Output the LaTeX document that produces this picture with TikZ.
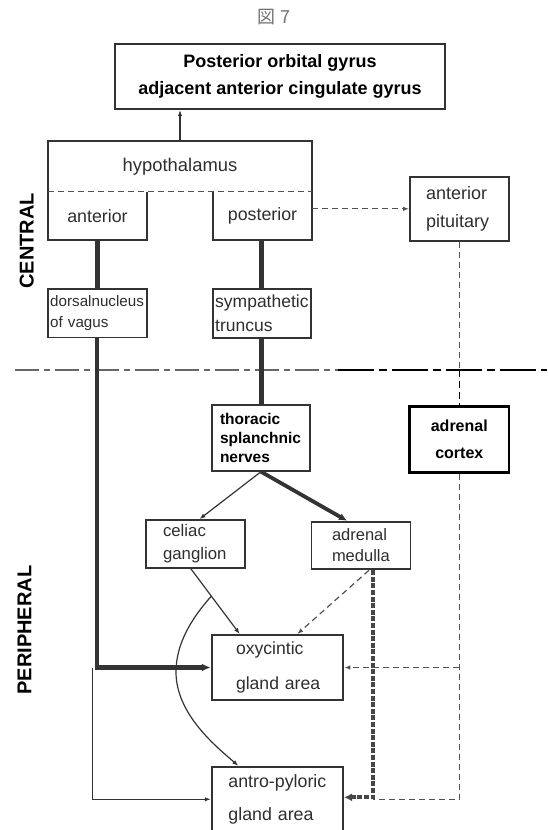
\documentclass[tikz,border=0pt]{standalone}
\usepackage{fontspec}
\setmainfont{Liberation Sans}
\newfontfamily\cjkfont{Noto Sans CJK JP}
\usetikzlibrary{arrows.meta,calc}
\definecolor{ln}{HTML}{333333}
\definecolor{tx}{HTML}{2E2E2E}
\begin{document}
\begin{tikzpicture}[x=1pt,y=-1pt,
  box/.style={draw=ln, line width=1.9pt, inner ysep=0pt, text=tx},
  tipa/.style={-{Latex[length=6pt,width=4.5pt]}},
  thinarrow/.style={draw=ln, line width=1.2pt, tipa},
  heavy/.style={draw=ln, line width=4.5pt},
  dsh/.style={draw=ln!85, line width=1.2pt, dash pattern=on 6pt off 4pt},
  dshdark/.style={draw=black, line width=1.8pt, dash pattern=on 7pt off 4pt},
  heavydash/.style={draw=ln!90, line width=4pt, dash pattern=on 5pt off 1.6pt},
  side/.style={font=\bfseries\fontsize{20}{20}\selectfont, rotate=90, inner sep=0pt}
]
\useasboundingbox (0,0) rectangle (547,830);
\clip (0,0) rectangle (547,830);

% title
\node[font=\cjkfont\fontsize{18}{18}\selectfont, text=black!55] (title) at (274,17) {図 7};

% side labels
\node[side] (central) at (26.7,240.7) {CENTRAL};
\node[side] (peripheral) at (24.5,630) {PERIPHERAL};

% boxes
\node[box, line width=2.2pt, minimum width=330pt, minimum height=65pt, align=center,
  font=\bfseries\fontsize{18}{27.7}\selectfont, text=black] (top) at (280,76.5)
  {Posterior orbital gyrus\\adjacent anterior cingulate gyrus};

\node[minimum width=264pt, minimum height=50pt, inner sep=0pt, text=tx,
  font=\fontsize{18.4}{20}\selectfont] (hypo) at (180,166.5) {hypothalamus};
\node[minimum width=99pt, minimum height=48pt, inner sep=0pt, text=tx,
  font=\fontsize{17.8}{20}\selectfont] (ant) at (97.5,216) {anterior};
\node[minimum width=99pt, minimum height=48pt, inner sep=0pt, text=tx,
  font=\fontsize{17.8}{20}\selectfont] (post) at (262.5,216) {posterior};

\node[box, minimum height=64pt, text width=67pt, inner xsep=16pt, align=left,
  font=\fontsize{18}{27.4}\selectfont] (pit) at (459.5,208.8) {anterior\\pituitary};

\node[box, minimum height=48.5pt, text width=94pt, inner xsep=2.5pt, align=left,
  font=\fontsize{15.2}{21.3}\selectfont] (dors) at (97.2,313.2) {dorsalnucleus\\of vagus};
\node[box, minimum height=49pt, text width=93pt, inner xsep=2.5pt, align=left,
  font=\fontsize{17.5}{24}\selectfont] (symp) at (261.7,313.6) {sympathetic\\truncus};

\node[box, minimum height=65.7pt, text width=82pt, inner xsep=8pt, align=left, text=black,
  font=\bfseries\fontsize{15.5}{18.8}\selectfont] (thor) at (261,437.9) {thoracic\\splanchnic\\nerves};
\node[box, draw=black, line width=2.8pt, minimum width=99.5pt, minimum height=66pt, align=center, text=black,
  font=\bfseries\fontsize{16}{26.3}\selectfont] (cortex) at (459.3,439.2) {adrenal\\cortex};

\node[box, minimum height=47.7pt, text width=65pt, inner xsep=17pt, align=left,
  font=\fontsize{16.8}{23.3}\selectfont] (cel) at (195.5,543.9) {celiac\\ganglion};
\node[box, minimum height=47.6pt, text width=58pt, inner xsep=20.5pt, align=left,
  font=\fontsize{16.5}{21}\selectfont] (med) at (361,545.5) {adrenal\\medulla};

\node[box, minimum height=65pt, text width=90pt, inner xsep=20.8pt, align=left,
  font=\fontsize{17.6}{34.3}\selectfont] (oxy) at (277.5,667.5) {\hspace*{3.5pt}oxycintic\\\hspace*{3.5pt}gland area};
\node[box, minimum height=65pt, text width=100pt, inner xsep=15.65pt, align=left,
  font=\fontsize{17.8}{33.3}\selectfont] (antro) at (277.4,799.3) {\hspace*{1pt}antro-pyloric\\\hspace*{1pt}gland area};

% hypothalamus outline
\draw[ln, line width=1.9pt, line join=miter]
  (post.north west) -- (post.south west) -- (post.south east) -- (hypo.north east)
  -- (hypo.north west) -- (ant.south west) -- (ant.south east) -- (ant.north east);
\draw[dsh] (hypo.south west) -- (hypo.south east);

% boundary line
\coordinate (ddl) at (15,370);
\coordinate (ddm) at (338,370);
\coordinate (ddr) at (547,370);
\draw[draw=ln!75, line width=1.8pt, dash pattern=on 24pt off 5pt on 6pt off 5pt] (ddl) -- (ddm);
\draw[draw=black, line width=2.4pt, dash pattern=on 36pt off 5pt on 8pt off 5pt] (ddm) -- (ddr);

% connectors
\draw[thinarrow] (hypo.north) -- (hypo.north |- top.south);
\draw[dsh, tipa] (post.east |- pit.west) -- (pit.west);
\draw[heavy] (ant.south) -- (ant.south |- dors.north);
\draw[heavy] (symp.north |- post.south) -- (symp.north);
\draw[heavy] (symp.south) -- (symp.south |- thor.north);
\draw[heavy, -{Latex[length=9pt,width=8pt]}] (dors.south) |- (oxy.west);
\coordinate (vl) at (92.5,667.5);
\draw[thinarrow] (vl) |- (antro.west);

\draw[dsh] (pit.south) -- (pit.south |- ddm);
\draw[dshdark] (pit.south |- ddm) -- (pit.south |- cortex.north);

\draw[thinarrow] (thor.south) -- ($(cel.north)+(4,0)$);
\draw[draw=ln, line width=3.8pt, -{Latex[length=8pt,width=7.5pt]}] (thor.south) -- ($(med.north)+(-14,0)$);

\draw[thinarrow] ($(cel.south)+(-4.7,0)$) -- coordinate[pos=0.42] (arcs) ($(oxy.north west)+(29,0)$);
\draw[thinarrow] (arcs) .. controls (190,620) and (176,645) .. (176,672)
  .. controls (176,715) and (218,748) .. ($(antro.north west)+(27.5,0)$);

\draw[dsh, tipa] ($(med.south)+(8,0)$) -- ($(oxy.north west)+(86.5,0)$);

\path ($(med.south)+(12,0)$) coordinate (mdj);
\draw[dsh] (cortex.south) |- (mdj |- antro.east);
\draw[dsh, tipa] (cortex.south |- oxy.east) -- (oxy.east);
\draw[heavydash, -{Latex[length=8pt,width=8pt]}] (mdj) |- ($(antro.east)+(0,-2)$);
\end{tikzpicture}
\end{document}
